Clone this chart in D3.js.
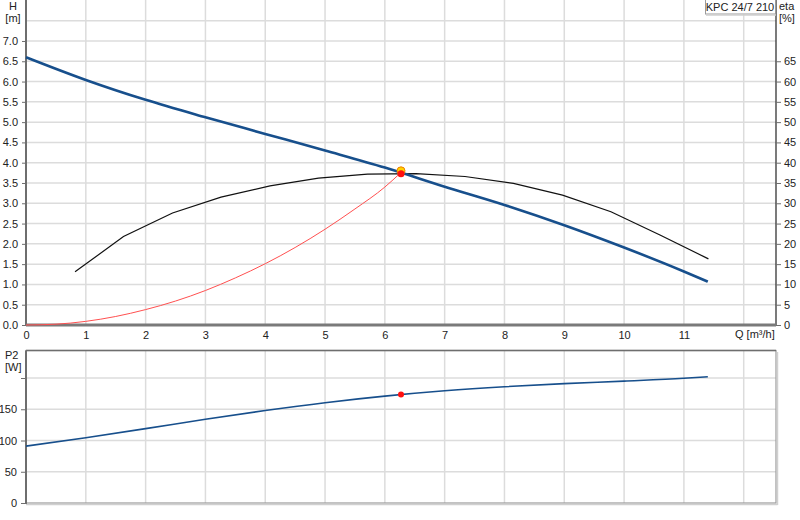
<!DOCTYPE html>
<html><head><meta charset="utf-8">
<script src="https://cdn.jsdelivr.net/npm/d3@7"></script>
<style>
body{margin:0;background:#fff;}
text{font-family:"Liberation Sans",Arial,sans-serif;font-size:11px;fill:#222;}
</style></head>
<body><svg id="c" width="800" height="520"></svg>
<script>
// ---- data ----
const qTicks = [0,1,2,3,4,5,6,7,8,9,10,11];
const hTicks = [0,0.5,1,1.5,2,2.5,3,3.5,4,4.5,5,5.5,6,6.5,7];
const etaTicks = [0,5,10,15,20,25,30,35,40,45,50,55,60,65];
const p2Ticks = [0,50,100,150,200];
const p2Grid = [50,100,150,200];

const hQ   = [0,1,2,3,4,5,6,7,8,9,10,11,11.4];
const hVal = [6.6,6.04,5.55,5.12,4.71,4.3,3.88,3.41,2.96,2.46,1.91,1.32,1.07];

const etaQ   = [0.82,1.63,2.45,3.26,4.08,4.89,5.71,6.52,7.34,8.15,8.97,9.78,10.6,11.41];
const etaVal = [13.1,21.8,27.6,31.5,34.3,36.2,37.2,37.3,36.6,34.9,32.0,27.9,22.2,16.3];

const sysQ   = [0,0.5,1,1.5,2,2.5,3,3.5,4,4.5,5,5.5,6,6.27];
const sysVal = [0,0.02,0.09,0.21,0.38,0.59,0.85,1.16,1.51,1.91,2.36,2.86,3.40,3.76];

const p2Q   = [0,1,2,3,4,5,6,7,8,9,10,11,11.4];
const p2Val = [91,104.5,119,134,148,160.5,171,179.5,186,191,195,199.5,202];

const opQ = 6.27, opH = 3.8, opEta = 37.3, opP2 = 173.7;
const title = "KPC 24/7 210";

// ---- layout ----
const svg = d3.select("#c");
const X0 = 26, X1 = 776;
const x = d3.scaleLinear().domain([0,12.54]).range([X0,X1]);
const yH = d3.scaleLinear().domain([0,8]).range([325,0.4]);
const yE = d3.scaleLinear().domain([0,80]).range([325,0.4]);
const yP = d3.scaleLinear().domain([0,244]).range([503,350.5]);

const gridC = "#dcdcdc", axC = "#6e6e6e";

// top grid
const gTop = svg.append("g");
gTop.selectAll(".hg").data(d3.range(0.5,8,0.5)).join("line")
  .attr("x1",X0).attr("x2",X1).attr("y1",d=>yH(d)).attr("y2",d=>yH(d))
  .attr("stroke",gridC).attr("stroke-width",1.5);
gTop.selectAll(".vg").data(d3.range(1,13)).join("line")
  .attr("x1",d=>x(d)).attr("x2",d=>x(d)).attr("y1",0).attr("y2",325)
  .attr("stroke",gridC).attr("stroke-width",1.5);

// bottom grid
const gBot = svg.append("g");
gBot.selectAll(".hg").data(p2Grid).join("line")
  .attr("x1",X0).attr("x2",X1).attr("y1",d=>yP(d)).attr("y2",d=>yP(d))
  .attr("stroke",gridC).attr("stroke-width",1.5);
gBot.selectAll(".vg").data(d3.range(1,13)).join("line")
  .attr("x1",d=>x(d)).attr("x2",d=>x(d)).attr("y1",yP.range()[1]).attr("y2",yP(0))
  .attr("stroke",gridC).attr("stroke-width",1.5);

// bottom frame
svg.append("rect").attr("x",X0).attr("y",350.5).attr("width",X1-X0).attr("height",503-350.5)
  .attr("fill","none").attr("stroke","#9a9a9a").attr("stroke-width",1.2);
svg.append("line").attr("x1",X1+1.5).attr("x2",X1+1.5).attr("y1",352).attr("y2",505).attr("stroke","#d0d0d0").attr("stroke-width",1.5);
svg.append("line").attr("x1",X0).attr("x2",X1+1.5).attr("y1",504.5).attr("y2",504.5).attr("stroke","#d0d0d0").attr("stroke-width",1.5);
svg.append("line").attr("x1",X0).attr("x2",X1).attr("y1",350.5).attr("y2",350.5).attr("stroke",axC).attr("stroke-width",1.5);

// axes top
const axL = d3.axisLeft(yH).tickValues(hTicks).tickFormat(d3.format(".1f")).tickSizeOuter(0).tickSize(4).tickPadding(4);
const gL = svg.append("g").attr("transform",`translate(${X0},0)`).call(axL);
const axR = d3.axisRight(yE).tickValues(etaTicks).tickSizeOuter(0).tickSize(5).tickPadding(3);
const gR = svg.append("g").attr("transform",`translate(${X1},0)`).call(axR);
const axB = d3.axisBottom(x).tickValues(qTicks).tickSize(0).tickPadding(6).tickSizeOuter(0);
const gB = svg.append("g").attr("transform",`translate(0,325)`).call(axB);
// bottom chart axis
const axP = d3.axisLeft(yP).tickValues(p2Ticks).tickFormat(d=>d===200?"":d).tickSize(5).tickPadding(4).tickSizeOuter(0);
const gP = svg.append("g").attr("transform",`translate(${X0},0)`).call(axP);

[gL,gR,gB,gP].forEach(g=>{
  g.selectAll("text").style("font-family","Liberation Sans, Arial, sans-serif").style("font-size","11px").attr("fill","#222");
  g.selectAll(".tick line").attr("stroke",axC);
});
gL.select(".domain").attr("stroke",axC).attr("stroke-width",2).attr("d","M0,0V325");
gR.select(".domain").attr("stroke","#333").attr("stroke-width",1.3).attr("d","M0,0V325");
gB.select(".domain").attr("stroke","#7a7a7a").attr("stroke-width",3).attr("d",`M${X0},0H${X1}`);
gP.select(".domain").attr("stroke",axC).attr("stroke-width",2).attr("d",`M0,350.5V504`);

// axis titles
svg.append("text").attr("x",13).attr("y",10).attr("text-anchor","middle").text("H");
svg.append("text").attr("x",13).attr("y",22).attr("text-anchor","middle").text("[m]");
svg.append("text").attr("x",779).attr("y",10).text("eta");
svg.append("text").attr("x",779).attr("y",22).text("[%]");
svg.append("text").attr("x",735).attr("y",338).text("Q [m³/h]");
svg.append("text").attr("x",5).attr("y",359).text("P2");
svg.append("text").attr("x",5).attr("y",371).text("[W]");

// legend box
svg.append("rect").attr("x",705.5).attr("y",-1).attr("width",70).attr("height",15)
  .attr("fill","#fff").attr("stroke","#9a9a9a");
svg.append("line").attr("x1",706).attr("x2",776).attr("y1",15).attr("y2",15).attr("stroke","#cfcfcf").attr("stroke-width",1.5);
svg.append("text").attr("x",740).attr("y",10.5).attr("text-anchor","middle").text(title);

// curves
const line = (xs,ys,yS)=>d3.line().x((d,i)=>x(xs[i])).y((d,i)=>yS(ys[i]))(xs);
const lineC = (xs,ys,yS)=>d3.line().curve(d3.curveMonotoneX).x((d,i)=>x(xs[i])).y((d,i)=>yS(ys[i]))(xs);

svg.append("path").attr("d",lineC(sysQ,sysVal,yH)).attr("fill","none").attr("stroke","#ff5050").attr("stroke-width",1);
svg.append("path").attr("d",line(etaQ,etaVal,yE)).attr("fill","none").attr("stroke","#111").attr("stroke-width",1.2);
svg.append("path").attr("d",lineC(hQ,hVal,yH)).attr("fill","none").attr("stroke","#174f8c").attr("stroke-width",2.6);
svg.append("path").attr("d",lineC(p2Q,p2Val,yP)).attr("fill","none").attr("stroke","#174f8c").attr("stroke-width",1.6);

// operating points
svg.append("circle").attr("cx",x(opQ)).attr("cy",yH(opH)).attr("r",4).attr("fill","#ffd200").attr("stroke","#f08000").attr("stroke-width",1);
svg.append("circle").attr("cx",x(opQ)).attr("cy",yE(opEta)).attr("r",3.5).attr("fill","#ff1010");
svg.append("circle").attr("cx",x(opQ)).attr("cy",yP(opP2)).attr("r",3).attr("fill","#ff1010");
</script></body></html>
